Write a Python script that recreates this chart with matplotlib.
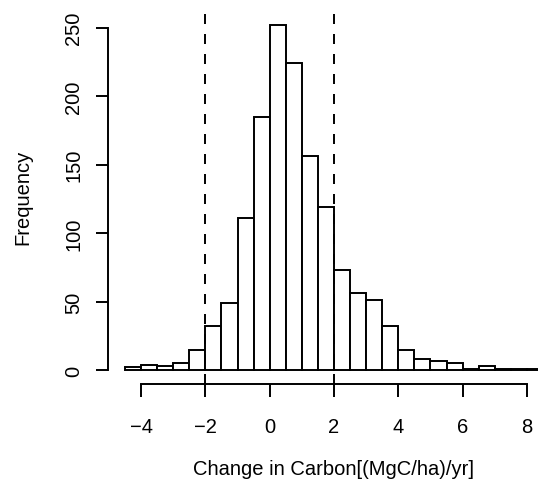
import matplotlib
matplotlib.use("Agg")
import matplotlib.pyplot as plt
import numpy as np

plt.rcParams['font.family'] = ['Liberation Sans', 'DejaVu Sans']

# Histogram bins (left edges, width 0.5) and counts
bin_left = [-4.5, -4.0, -3.5, -3.0, -2.5, -2.0, -1.5, -1.0, -0.5, 0.0, 0.5, 1.0, 1.5,
            2.0, 2.5, 3.0, 3.5, 4.0, 4.5, 5.0, 5.5, 6.0, 6.5, 7.0, 7.5, 8.0]
counts = [2, 4, 3, 5, 15, 32, 49, 111, 185, 252, 224, 156, 119,
          73, 56, 51, 32, 15, 8, 7, 5, 1, 3, 1, 1, 1]
bin_width = 0.5
x_ticks = [-4, -2, 0, 2, 4, 6, 8]
y_ticks = [0, 50, 100, 150, 200, 250]
threshold_lines = [-2, 2]
xlabel = "Change in Carbon[(MgC/ha)/yr]"
ylabel = "Frequency"

W, H = 538, 485
fig = plt.figure(figsize=(W / 100, H / 100), dpi=100)
left_px, right_px = 108.2, 559.8
top_px, bottom_px = 12.0, 385.0
ax = fig.add_axes([left_px / W, 1 - bottom_px / H,
                   (right_px - left_px) / W, (bottom_px - top_px) / H])
ax.patch.set_visible(False)

lw = 1.4
fs = 14.5
ax.bar(bin_left, counts, width=bin_width, align='edge', color='white',
       edgecolor='black', linewidth=lw)

dash = 7.2 / lw
for xv in threshold_lines:
    ax.axvline(xv, color='black', linewidth=lw, linestyle=(0, (dash, dash)))

xmin, xmax = min(bin_left), max(bin_left) + bin_width
xr = xmax - xmin
ax.set_xlim(xmin - 0.04 * xr, xmax + 0.04 * xr)
ymax = max(counts)
ax.set_ylim(-0.04 * ymax, ymax * 1.04)

for s in ['top', 'right']:
    ax.spines[s].set_visible(False)
ax.spines['left'].set_bounds(y_ticks[0], y_ticks[-1])
ax.spines['bottom'].set_bounds(x_ticks[0], x_ticks[-1])
for s in ['left', 'bottom']:
    ax.spines[s].set_linewidth(lw)

ax.set_xticks(x_ticks)
ax.set_xticklabels([str(t).replace('-', '\u2212') for t in x_ticks])
ax.set_yticks(y_ticks)
ax.set_yticklabels([str(t) for t in y_ticks], rotation=90, va='center')
ax.tick_params(axis='both', direction='out', length=9, width=lw, labelsize=fs)
ax.tick_params(axis='x', pad=15)
ax.tick_params(axis='y', pad=9)

fig.text(333.5 / W, 1 - 470 / H, xlabel, ha='center', va='center', fontsize=fs)
fig.text(23 / W, 1 - 197 / H, ylabel, ha='center', va='center', fontsize=fs,
         rotation=90)

fig.savefig("out.png", dpi=100)
